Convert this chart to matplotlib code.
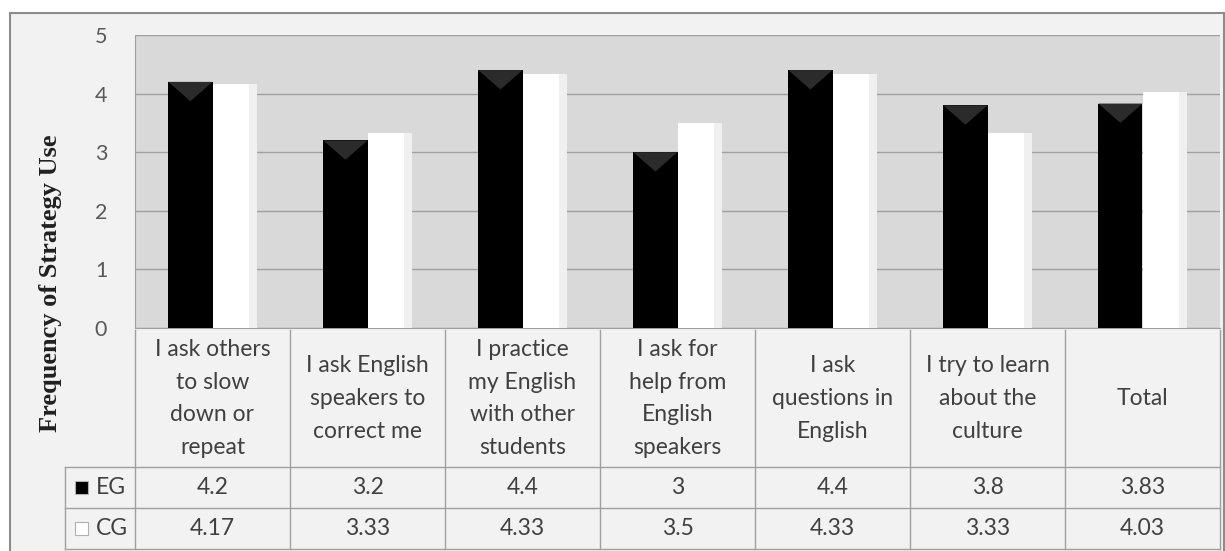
import numpy as np
import matplotlib
matplotlib.use('Agg')
from matplotlib import pyplot as plt
from matplotlib.patches import Polygon, Rectangle

categories = ['I ask others\nto slow\ndown or\nrepeat',
              'I ask English\nspeakers to\ncorrect me',
              'I practice\nmy English\nwith other\nstudents',
              'I ask for\nhelp from\nEnglish\nspeakers',
              'I ask\nquestions in\nEnglish',
              'I try to learn\nabout the\nculture',
              'Total']
eg = [4.2, 3.2, 4.4, 3, 4.4, 3.8, 3.83]
cg = [4.17, 3.33, 4.33, 3.5, 4.33, 3.33, 4.03]
series = ['EG', 'CG']
y_ticks = [0, 1, 2, 3, 4, 5]

W, H = 1225, 551
txt = '#404040'
line = '#a0a0a0'
font = 'Lato'
fs = 16.5

fig = plt.figure(figsize=(W / 100, H / 100), dpi=100)
fig.patch.set_facecolor('white')

# pixel-space layer for the frame and the data table
bg = fig.add_axes([0, 0, 1, 1], zorder=0)
bg.set_xlim(0, W)
bg.set_ylim(H, 0)
bg.axis('off')
bg.add_patch(Rectangle((10, 13), W - 11, H - 10, facecolor='#f2f2f2',
                       edgecolor='#8c8c8c', lw=1.5))

x0, x1 = 135, 1220
y_top, y_zero = 35, 328
ax = fig.add_axes([x0 / W, (H - y_zero) / H, (x1 - x0) / W, (y_zero - y_top) / H], zorder=1)
ax.set_facecolor('#d9d9d9')

n = len(categories)
x = np.arange(n) + 0.5
bw = 0.285
ax.bar(x - bw / 2, eg, bw, color='black', zorder=3)
ax.bar(x + bw / 2, cg, bw, color='white', zorder=3)

# bevelled tops on the dark bars, soft edge on the light ones
for xi, v in zip(x, eg):
    tri = Polygon([(xi - bw, v), (xi, v), (xi - bw / 2, v - 0.33)], closed=True,
                  facecolor='#2b2b2b', edgecolor='none', zorder=4)
    ax.add_patch(tri)
for xi, v in zip(x, cg):
    ax.add_patch(Rectangle((xi + bw * 0.82, 0), bw * 0.18, v, facecolor='#f0f0f0',
                           edgecolor='none', zorder=4))

ax.set_xlim(0, n)
ax.set_ylim(0, 5)
ax.set_yticks(y_ticks)
ax.set_xticks([])
ax.yaxis.grid(True, color=line, lw=1)
ax.set_axisbelow(True)
ax.tick_params(axis='y', length=0, pad=20, labelsize=15.5, labelcolor='#595959')
for lab in ax.get_yticklabels():
    lab.set_fontfamily(font)
for s in ['top', 'right']:
    ax.spines[s].set_visible(False)
ax.spines['left'].set_color(line)
ax.spines['bottom'].set_color(line)

fig.text(51 / W, (H - 283) / H, 'Frequency of Strategy Use', rotation=90,
         ha='center', va='center', fontsize=19, fontweight='bold',
         family='Liberation Serif', color='#202020')

# data table below the plot
edges = x0 + (x1 - x0) * np.arange(n + 1) / n
r0, r1, r2, r3 = y_zero + 2, 467, 508, 549
for e in edges:
    bg.plot([e, e], [r0, r3], color=line, lw=1, zorder=2)
bg.plot([65, 65], [r1, r3], color=line, lw=1, zorder=2)
for r in (r1, r2, r3):
    bg.plot([65, x1], [r, r], color=line, lw=1, zorder=2)

for i, cat in enumerate(categories):
    cx = (edges[i] + edges[i + 1]) / 2
    bg.text(cx, (r0 + r1) / 2, cat, ha='center', va='center', fontsize=fs,
            color=txt, family=font, linespacing=1.68)
    bg.text(cx, (r1 + r2) / 2, f'{eg[i]:g}', ha='center', va='center',
            fontsize=fs, color=txt, family=font)
    bg.text(cx, (r2 + r3) / 2, f'{cg[i]:g}', ha='center', va='center',
            fontsize=fs, color=txt, family=font)

for (ra, rb), name, fc in zip([(r1, r2), (r2, r3)], series, ['black', 'white']):
    cy = (ra + rb) / 2
    bg.add_patch(Rectangle((75, cy - 7), 13, 13, facecolor=fc,
                           edgecolor='#b0b0b0', lw=0.8, zorder=3))
    bg.text(96, cy, name, ha='left', va='center', fontsize=fs,
            color=txt, family=font)

plt.savefig('out.png', dpi=100)
